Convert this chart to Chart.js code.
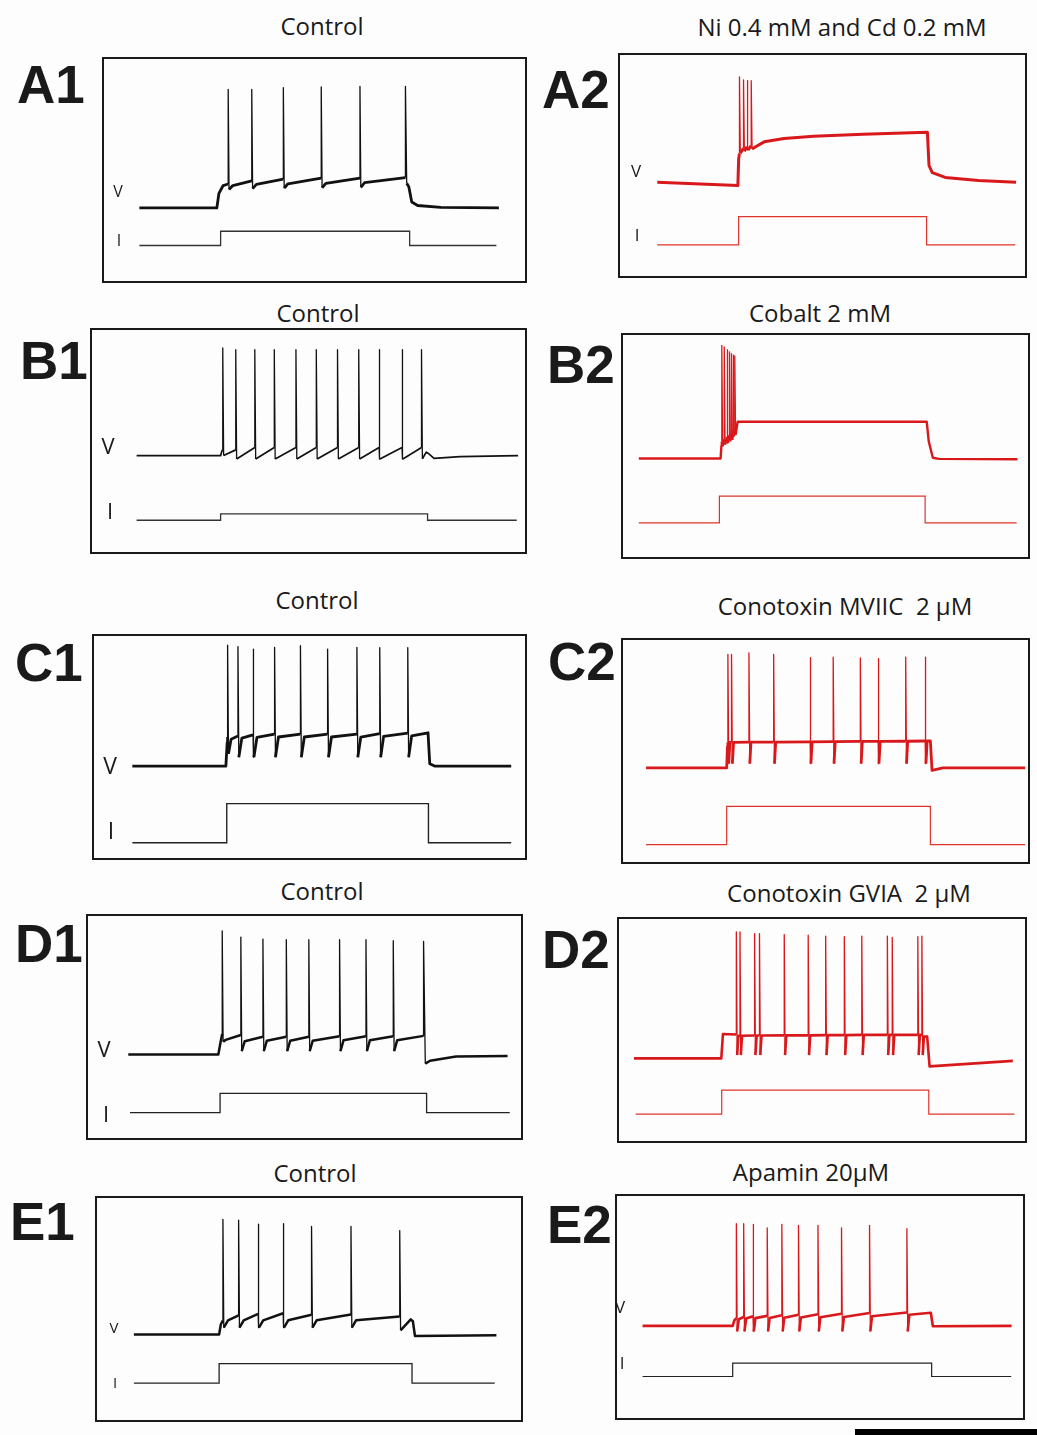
<!DOCTYPE html>
<html>
<head>
<meta charset="utf-8">
<script src="https://cdn.jsdelivr.net/npm/chart.js@4.4.1/dist/chart.umd.min.js"></script>
<style>
  html, body { margin: 0; padding: 0; background: #fdfdfd; }
  #page { position: relative; width: 1037px; height: 1435px; overflow: hidden; }
  .box { position: absolute; box-sizing: border-box; border: 2px solid #1a1a1a; background: #fdfdfd; }
  .txt { position: absolute; line-height: 1; white-space: pre; color: #1a1a1a; }
  #scalebar { position: absolute; left: 855px; top: 1429px; width: 182px; height: 6px; background: #000; }
</style>
</head>
<body>
<div id="page"><div id="scalebar"></div></div>
<script>
// x = time in the sweep (0-1000 across each frame), y = trace level (0 bottom - 100 top)

// A1 control
const a1VTime = [84, 268, 273, 283, 295, 295, 297, 306, 351, 351, 353, 362, 426, 426, 428, 437, 516, 516, 518, 527, 608, 608, 610, 619, 716, 716, 719, 724, 731, 745, 800, 938];
const a1V = [32.9, 32.9, 39.5, 43.0, 43.7, 86.3, 41.2, 43.0, 45.1, 86.3, 41.6, 43.5, 45.9, 87.1, 41.8, 43.8, 46.3, 87.4, 42.0, 44.0, 46.3, 87.7, 42.2, 44.3, 46.6, 87.7, 44.0, 42.5, 35.6, 34.0, 33.2, 32.9];
const a1ITime = [84, 277, 277, 726, 726, 932];
const a1I = [16.0, 16.0, 22.4, 22.4, 16.0, 16.0];

// A2 Ni + Cd
const a2VTime = [92, 291, 293, 295, 295, 297, 305, 305, 307, 314, 314, 316, 324, 324, 326, 335, 356, 405, 478, 600, 759, 763, 771, 803, 885, 978];
const a2V = [42.4, 40.9, 53.0, 55.5, 90.1, 55.6, 57.8, 88.7, 56.5, 58.5, 88.4, 57.0, 59.0, 88.4, 57.5, 58.5, 60.7, 62.2, 63.2, 64.1, 65.0, 50.0, 46.8, 44.6, 43.2, 42.4];
const a2ITime = [92, 293, 293, 757, 757, 976];
const a2I = [14.1, 14.1, 26.9, 26.9, 14.1, 14.1];

// B1 control
const b1VTime = [103, 297, 300, 302, 302, 304, 332, 332, 334, 376, 376, 378, 421, 421, 423, 471, 471, 473, 518, 518, 520, 567, 567, 569, 616, 616, 618, 663, 663, 665, 716, 716, 718, 761, 761, 763, 772, 776, 790, 850, 984];
const b1V = [43.4, 43.4, 45.5, 46.0, 91.9, 43.5, 46.0, 91.2, 41.9, 47.1, 91.2, 41.9, 47.1, 91.2, 41.9, 47.1, 91.2, 41.9, 47.1, 91.2, 41.9, 47.1, 91.2, 41.9, 47.1, 91.2, 41.9, 47.1, 91.2, 41.9, 47.1, 91.2, 41.9, 47.1, 91.2, 42.0, 45.0, 44.5, 42.2, 43.0, 43.4];
const b1ITime = [103, 297, 297, 775, 775, 981];
const b1I = [14.3, 14.3, 17.2, 17.2, 14.3, 14.3];

// B2 cobalt
const b2VTime = [39, 241, 243, 244, 244, 246, 250, 250, 252, 257, 257, 259, 263, 263, 265, 268, 268, 270, 272, 272, 274, 276, 276, 278, 283, 750, 755, 765, 780, 974];
const b2V = [44.4, 44.4, 50.0, 52.0, 95.3, 49.9, 53.0, 94.6, 50.6, 54.0, 93.4, 51.3, 55.0, 92.4, 52.1, 56.0, 91.6, 52.8, 57.0, 90.9, 54.3, 58.0, 90.5, 55.0, 60.9, 60.9, 52.0, 44.7, 44.2, 44.0];
const b2ITime = [39, 238, 238, 746, 746, 972];
const b2I = [15.4, 15.4, 27.4, 27.4, 15.4, 15.4];

// C1 control
const c1VTime = [89, 306, 309, 310, 310, 312, 318, 334, 334, 336, 343, 369, 369, 371, 378, 419, 419, 421, 428, 479, 479, 481, 488, 542, 542, 544, 551, 610, 610, 612, 619, 663, 663, 665, 672, 728, 728, 730, 737, 775, 779, 790, 968];
const c1V = [41.4, 41.4, 52.0, 54.5, 95.9, 47.0, 53.5, 55.0, 95.2, 45.4, 54.0, 55.5, 94.1, 45.4, 54.3, 55.8, 94.9, 45.4, 54.5, 55.8, 95.6, 45.4, 54.5, 55.8, 94.1, 45.4, 54.5, 55.8, 94.9, 45.4, 54.5, 56.0, 94.7, 45.4, 54.8, 56.2, 94.7, 45.4, 55.0, 56.4, 42.5, 41.4, 41.4];
const c1ITime = [89, 308, 308, 776, 776, 968];
const c1I = [6.9, 6.9, 24.5, 24.5, 6.9, 6.9];

// C2 conotoxin MVIIC
const c2VTime = [57, 256, 258, 259, 259, 261, 264, 268, 268, 270, 273, 311, 311, 313, 316, 372, 372, 374, 377, 462, 462, 464, 467, 519, 519, 521, 524, 586, 586, 588, 591, 630, 630, 632, 635, 698, 698, 700, 703, 746, 746, 748, 751, 759, 763, 790, 993];
const c2V = [42.4, 42.4, 52.0, 53.9, 93.5, 44.3, 53.9, 53.9, 93.5, 44.3, 53.9, 54.0, 94.2, 44.3, 54.0, 54.0, 93.5, 44.3, 54.0, 54.1, 92.0, 44.3, 54.1, 54.2, 92.3, 44.3, 54.2, 54.3, 91.9, 44.3, 54.3, 54.3, 91.6, 44.3, 54.3, 54.4, 92.3, 44.3, 54.4, 54.5, 92.3, 44.3, 54.5, 54.5, 41.3, 42.4, 42.4];
const c2ITime = [57, 256, 256, 759, 759, 993];
const c2I = [7.8, 7.8, 25.1, 25.1, 7.8, 7.8];

// D1 control
const d1VTime = [93, 301, 306, 310, 310, 312, 318, 353, 353, 355, 362, 404, 404, 406, 413, 458, 458, 460, 467, 510, 510, 512, 519, 581, 581, 583, 590, 642, 642, 644, 651, 705, 705, 707, 714, 775, 775, 779, 790, 850, 969];
const d1V = [37.6, 37.6, 43.0, 47.0, 93.3, 43.4, 44.2, 46.4, 90.5, 39.1, 43.6, 45.6, 89.6, 39.1, 43.8, 45.6, 89.3, 39.1, 43.8, 45.6, 89.3, 39.1, 43.8, 45.8, 89.3, 39.1, 44.0, 45.8, 89.3, 39.1, 44.0, 45.8, 88.9, 39.1, 44.0, 46.0, 88.6, 33.5, 34.8, 36.7, 36.9];
const d1ITime = [97, 305, 305, 782, 782, 974];
const d1I = [11.4, 11.4, 20.1, 20.1, 11.4, 11.4];

// D2 conotoxin GVIA
const d2VTime = [37, 252, 256,
  289, 289, 291, 294, 298, 298, 300, 303, 334, 334, 336, 339, 346, 346, 348, 351,
  407, 407, 409, 412, 466, 466, 468, 471, 509, 509, 511, 514, 555, 555, 557, 560,
  598, 598, 600, 603, 661, 661, 663, 666, 673, 673, 675, 678, 736, 736, 738, 741,
  746, 746, 748, 751, 759, 765, 970];
const d2V = [37.2, 37.2, 48.2,
  48.0, 94.2, 38.7, 47.4, 47.4, 94.2, 38.7, 47.4, 47.5, 93.4, 38.7, 47.5, 47.5, 93.4, 38.7, 47.5,
  47.6, 93.0, 38.7, 47.6, 47.6, 92.7, 38.7, 47.6, 47.7, 92.3, 38.7, 47.7, 47.7, 92.0, 38.7, 47.7,
  47.8, 92.3, 38.7, 47.8, 47.8, 92.3, 38.7, 47.8, 47.8, 91.7, 38.7, 47.8, 47.8, 92.0, 38.7, 47.8,
  47.8, 92.3, 38.7, 47.0, 47.0, 33.6, 36.1];
const d2ITime = [41, 253, 253, 763, 763, 974];
const d2I = [12.1, 12.1, 22.9, 22.9, 12.1, 12.1];

// E1 control
const e1VTime = [87, 288, 292, 297, 297, 299, 309, 334, 334, 336, 346, 380, 380, 382, 392, 439, 439, 441, 451, 506, 506, 508, 518, 599, 599, 601, 611, 714, 714, 716, 740, 745, 750, 942];
const e1V = [38.5, 38.5, 43.0, 44.9, 90.4, 41.6, 44.9, 47.1, 90.0, 41.6, 44.9, 47.8, 88.2, 41.6, 44.9, 48.1, 88.5, 41.6, 44.9, 47.4, 87.2, 41.6, 44.9, 47.5, 87.2, 41.6, 44.9, 46.6, 85.3, 40.4, 45.3, 44.5, 37.8, 38.2];
const e1ITime = [87, 288, 288, 743, 743, 938];
const e1I = [16.6, 16.6, 25.4, 25.4, 16.6, 16.6];

// E2 apamin
const e2VTime = [63, 285, 289, 294, 294, 296, 300, 312, 312, 314, 318, 335, 335, 337, 341, 370, 370, 372, 376, 406, 406, 408, 412, 447, 447, 449, 453, 495, 495, 497, 501, 553, 553, 555, 559, 622, 622, 624, 628, 714, 714, 716, 720, 773, 778, 972];
const e2V = [41.5, 41.5, 44.0, 45.0, 87.5, 39.0, 44.5, 45.5, 87.5, 39.0, 44.8, 45.8, 87.2, 39.0, 45.0, 46.0, 85.6, 39.0, 45.0, 46.3, 87.2, 39.0, 45.2, 46.5, 86.8, 39.0, 45.3, 46.7, 86.8, 39.0, 45.4, 47.0, 85.6, 39.0, 45.5, 47.3, 86.8, 39.0, 45.8, 47.5, 85.3, 39.0, 46.5, 47.4, 41.3, 41.5];
const e2ITime = [63, 285, 285, 775, 775, 971];
const e2I = [18.7, 18.7, 24.7, 24.7, 18.7, 18.7];

const titles = ['Control', 'Ni 0.4 mM and Cd 0.2 mM', 'Control', 'Cobalt 2 mM', 'Control',
  'Conotoxin MVIIC  2 \u03bcM', 'Control', 'Conotoxin GVIA  2 \u03bcM', 'Control', 'Apamin 20\u03bcM'];
const letters = ['A1', 'A2', 'B1', 'B2', 'C1', 'C2', 'D1', 'D2', 'E1', 'E2'];

const BLACK = '#111';
const RED = '#d9181c';
const RED_I = '#e0342a';

// layout: frame box [left, top, w, h], title centre/baseline, letter left/baseline, V/I label centre + size
const panels = [
  { box: [102, 57, 425, 226], t: [322, 35], l: [17, 103], vt: a1VTime, v: a1V, it: a1ITime, i: a1I,
    col: BLACK, icol: '#333', vw: 2.8, iw: 1.3, vl: [118, 191, 16], il: [119, 240, 16] },
  { box: [618, 53, 409, 225], t: [842, 36], l: [542, 108], vt: a2VTime, v: a2V, it: a2ITime, i: a2I,
    col: RED, icol: RED_I, vw: 3.0, iw: 1.2, vl: [636, 171, 17], il: [637, 235, 17] },
  { box: [90, 328, 437, 226], t: [318, 322], l: [20, 379], vt: b1VTime, v: b1V, it: b1ITime, i: b1I,
    col: BLACK, icol: '#333', vw: 1.7, iw: 1.3, vl: [108, 446, 22], il: [110, 511, 22] },
  { box: [621, 333, 409, 226], t: [820, 322], l: [547, 383], vt: b2VTime, v: b2V, it: b2ITime, i: b2I,
    col: RED, icol: RED_I, vw: 2.4, iw: 1.2 },
  { box: [92, 634, 435, 226], t: [317, 609], l: [15, 681], vt: c1VTime, v: c1V, it: c1ITime, i: c1I,
    col: BLACK, icol: '#222', vw: 2.8, iw: 1.4, vl: [110, 766, 23], il: [111, 831, 23] },
  { box: [621, 638, 409, 226], t: [845, 615], l: [548, 680], vt: c2VTime, v: c2V, it: c2ITime, i: c2I,
    col: RED, icol: RED_I, vw: 2.8, iw: 1.2 },
  { box: [86, 914, 437, 226], t: [322, 900], l: [15, 962], vt: d1VTime, v: d1V, it: d1ITime, i: d1I,
    col: BLACK, icol: '#222', vw: 2.5, iw: 1.3, vl: [104, 1049, 22], il: [106, 1114, 22] },
  { box: [617, 917, 410, 226], t: [849, 902], l: [542, 968], vt: d2VTime, v: d2V, it: d2ITime, i: d2I,
    col: RED, icol: RED_I, vw: 2.6, iw: 1.2 },
  { box: [95, 1196, 428, 226], t: [315, 1182], l: [10, 1240], vt: e1VTime, v: e1V, it: e1ITime, i: e1I,
    col: BLACK, icol: '#222', vw: 2.5, iw: 1.3, vl: [114, 1328, 15], il: [115, 1383, 15] },
  { box: [615, 1194, 410, 226], t: [811, 1181], l: [547, 1243], vt: e2VTime, v: e2V, it: e2ITime, i: e2I,
    col: RED, icol: '#222', vw: 2.6, iw: 1.2, vl: [620, 1307, 17], il: [622, 1363, 17] }
];

const page = document.getElementById('page');

// put a text so its baseline lands on y (line-height 1)
function addText(str, x, baseline, size, opts) {
  const d = document.createElement('div');
  d.className = 'txt';
  d.textContent = str;
  const bold = opts && opts.bold;
  d.style.fontFamily = bold ? '"Liberation Sans", Arial, sans-serif' : '"Open Sans", sans-serif';
  d.style.fontWeight = bold ? '700' : '400';
  d.style.fontSize = size + 'px';
  const k = bold ? 0.8465 : 0.888;
  d.style.top = (baseline - k * size) + 'px';
  d.style.left = x + 'px';
  if (opts && opts.center) d.style.transform = 'translateX(-50%)';
  page.appendChild(d);
}

function points(xs, ys) {
  return xs.map((x, k) => ({ x: x, y: ys[k] }));
}

panels.forEach((p, n) => {
  const wrap = document.createElement('div');
  wrap.className = 'box';
  wrap.style.left = p.box[0] + 'px';
  wrap.style.top = p.box[1] + 'px';
  wrap.style.width = p.box[2] + 'px';
  wrap.style.height = p.box[3] + 'px';
  const cv = document.createElement('canvas');
  wrap.appendChild(cv);
  page.appendChild(wrap);

  addText(titles[n], p.t[0], p.t[1], 24, { center: true });
  addText(letters[n], p.l[0], p.l[1], 53, { bold: true });
  if (p.vl) addText('V', p.vl[0], p.vl[1] + 0.357 * p.vl[2], p.vl[2], { center: true });
  if (p.il) addText('I', p.il[0], p.il[1] + 0.357 * p.il[2], p.il[2], { center: true });

  new Chart(cv.getContext('2d'), {
    type: 'line',
    data: {
      datasets: [{
        label: 'V',
        data: points(p.vt, p.v),
        borderColor: p.col,
        borderWidth: p.vw,
        borderJoinStyle: 'round',
        segment: {
          // spikes are drawn thinner than the noisy baseline
          borderWidth: ctx => Math.abs(ctx.p1.parsed.y - ctx.p0.parsed.y) > 15 ? 1.3 : p.vw
        }
      }, {
        label: 'I',
        data: points(p.it, p.i),
        borderColor: p.icol,
        borderWidth: p.iw
      }]
    },
    options: {
      animation: false,
      responsive: true,
      maintainAspectRatio: false,
      layout: { padding: 0 },
      elements: { point: { radius: 0 }, line: { tension: 0 } },
      scales: {
        x: { type: 'linear', min: 0, max: 1000, display: false },
        y: { min: 0, max: 100, display: false }
      },
      plugins: { legend: { display: false }, tooltip: { enabled: false } }
    }
  });
});
</script>
</body>
</html>
